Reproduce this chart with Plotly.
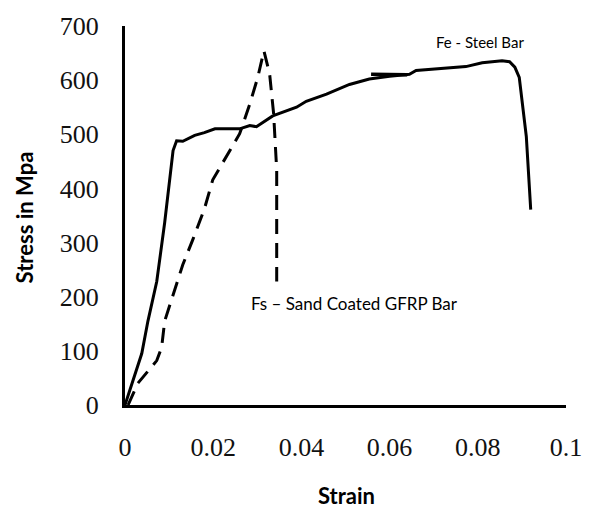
import plotly.graph_objects as go

# Stress-strain data for the two reinforcing bars
steel_strain = [0.0, 0.0038, 0.0052, 0.0072, 0.0090, 0.0102, 0.0109, 0.0117, 0.0131, 0.0158,
                0.0180, 0.0204, 0.0230, 0.0260, 0.0283, 0.0298, 0.0335, 0.0389, 0.0411,
                0.0457, 0.0509, 0.0554, 0.0600, 0.0645, 0.0660, 0.0720, 0.0773, 0.0810,
                0.0855, 0.0872, 0.0884, 0.0894, 0.0910, 0.0920]
steel_stress = [0, 95, 155, 228, 337, 428, 470, 488, 487, 498,
                503, 510, 510, 510, 516, 514, 534, 550, 561,
                574, 592, 602, 607, 611, 618, 621, 625, 632,
                636, 634, 624, 605, 496, 361]

# short retraced stretch of the steel record
steel_retrace_strain = [0.0558, 0.0640]
steel_retrace_stress = [611, 610]

gfrp_strain = [0.0007, 0.0029, 0.0072, 0.0083, 0.0090, 0.0106, 0.0131, 0.0154, 0.0180,
               0.0199, 0.0238, 0.0260, 0.0283, 0.0301, 0.0315, 0.0328, 0.0337, 0.0344, 0.0344]
gfrp_stress = [0, 40, 82, 106, 155, 197, 259, 306, 362,
               416, 470, 501, 556, 605, 654, 611, 538, 434, 228]

x_ticks = [0, 0.02, 0.04, 0.06, 0.08, 0.1]
x_tick_text = ["0", "0.02", "0.04", "0.06", "0.08", "0.1"]
y_ticks = [0, 100, 200, 300, 400, 500, 600, 700]

fig = go.Figure()
fig.add_trace(go.Scatter(x=steel_strain, y=steel_stress, mode="lines",
                         line=dict(color="black", width=3), name="Fe - Steel Bar"))
fig.add_trace(go.Scatter(x=steel_retrace_strain, y=steel_retrace_stress, mode="lines",
                         line=dict(color="black", width=3.5), hoverinfo="skip"))
fig.add_trace(go.Scatter(x=gfrp_strain, y=gfrp_stress, mode="lines",
                         line=dict(color="black", width=3, dash="15px,9px"),
                         name="Fs – Sand Coated GFRP Bar"))

tick_font = dict(family="Liberation Serif", size=26, color="#111")
title_font = dict(family="Lato", size=22, color="black")

fig.update_layout(
    width=594, height=508,
    margin=dict(l=125, r=27, t=21, b=103),
    paper_bgcolor="white", plot_bgcolor="white",
    showlegend=False,
    xaxis=dict(range=[0, 0.1], tickvals=x_ticks, ticktext=x_tick_text, showgrid=False,
               zeroline=False, showline=True, linecolor="black", linewidth=3,
               ticks="", tickfont=tick_font, ticklabelstandoff=17),
    yaxis=dict(range=[0, 700], tickvals=y_ticks, showgrid=False, zeroline=False,
               showline=True, linecolor="black", linewidth=3, ticks="",
               tickfont=tick_font, ticklabelstandoff=18),
    annotations=[
        dict(text="Fe - Steel Bar", x=0.0805, y=671, xref="x", yref="y", showarrow=False,
             xanchor="center", yanchor="middle",
             font=dict(family="Lato", size=15, color="black")),
        dict(text="Fs – Sand Coated GFRP Bar", x=0.0520, y=188, xref="x", yref="y",
             showarrow=False, xanchor="center", yanchor="middle",
             font=dict(family="Lato", size=17, color="black")),
        dict(text="<b>Strain</b>", x=0.502, y=-0.2396, xref="paper", yref="paper",
             showarrow=False, xanchor="center", yanchor="middle", font=title_font),
        dict(text="<b>Stress in Mpa</b>", x=-0.229, y=0.495, xref="paper", yref="paper",
             showarrow=False, textangle=-90, xanchor="center", yanchor="middle",
             font=title_font),
    ],
)

fig.write_html("out.html")
